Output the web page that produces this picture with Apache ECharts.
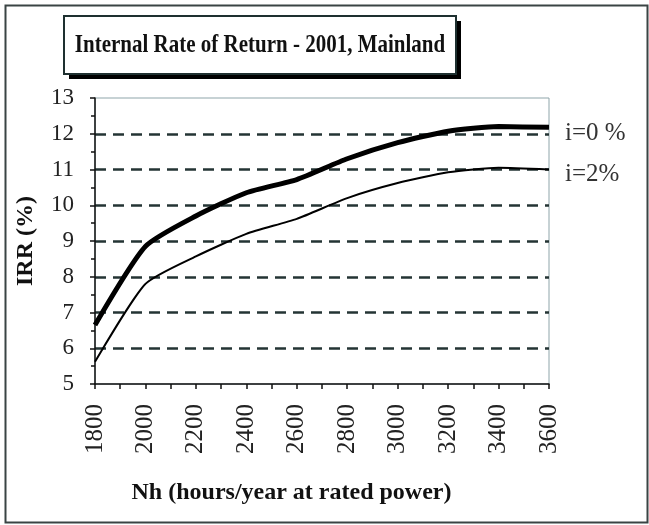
<!DOCTYPE html>
<html>
<head>
<meta charset="utf-8">
<script src="https://cdn.jsdelivr.net/npm/echarts@6/dist/echarts.min.js"></script>
<style>html,body{margin:0;padding:0;background:#fff}#c{width:649px;height:525px}</style>
</head>
<body>
<div id="c"></div>
<script>
var hours = [1800, 2000, 2200, 2400, 2600, 2800, 3000, 3200, 3400, 3600];
var irr0 = [6.65, 8.85, 9.7, 10.35, 10.72, 11.3, 11.75, 12.07, 12.2, 12.18];
var irr2 = [5.62, 7.8, 8.57, 9.2, 9.62, 10.2, 10.62, 10.92, 11.05, 11.0];
var name0 = 'i=0 %';
var name2 = 'i=2%';
var titleText = 'Internal Rate of Return - 2001, Mainland';
var xName = 'Nh (hours/year at rated power)';
var yName = 'IRR (%)';

function pairs(xs, ys) { return xs.map(function (x, i) { return [x, ys[i]]; }); }

var serif = '"Liberation Serif", "Times New Roman", serif';
var gridColor = '#243434';
var chart = echarts.init(document.getElementById('c'), null, { renderer: 'canvas' });
chart.setOption({
  backgroundColor: '#fff',
  animation: false,
  grid: { left: 95, top: 98, right: 100, bottom: 141, show: true, borderColor: '#8fa5aa', borderWidth: 1 },
  xAxis: {
    type: 'value', min: 1800, max: 3600, interval: 200,
    name: xName, nameLocation: 'middle', nameGap: 97,
    nameTextStyle: { fontFamily: serif, fontWeight: 'bold', fontSize: 24, color: '#111', padding: [0, 61, 0, 0] },
    axisLine: { show: true, lineStyle: { color: '#111', width: 1.5 } },
    axisTick: { show: true, length: 5, lineStyle: { color: '#111', width: 1.5 } },
    minorTick: { show: true, splitNumber: 2, length: 5, lineStyle: { color: '#111', width: 1.5 } },
    axisLabel: { rotate: 90, margin: 20, fontFamily: serif, fontSize: 25, color: '#222',
      formatter: function (v) { return String(v); } },
    splitLine: { show: false }
  },
  yAxis: {
    type: 'value', min: 5, max: 13, interval: 1,
    name: yName, nameLocation: 'middle', nameGap: 57,
    nameTextStyle: { fontFamily: serif, fontWeight: 'bold', fontSize: 24, color: '#111' },
    axisLine: { show: true, lineStyle: { color: '#111', width: 1.5 } },
    axisTick: { show: true, length: 5, lineStyle: { color: '#111', width: 1.5 } },
    minorTick: { show: true, splitNumber: 2, length: 4, lineStyle: { color: '#111', width: 1.5 } },
    axisLabel: { margin: 21, fontFamily: serif, fontSize: 23, color: '#222' },
    splitLine: { show: true, lineStyle: {
      color: ['rgba(0,0,0,0)', gridColor, gridColor, gridColor, gridColor, gridColor, gridColor, gridColor, 'rgba(0,0,0,0)'],
      width: 2.5, type: [11, 7] } }
  },
  series: [
    { name: name0, type: 'line', data: pairs(hours, irr0), symbol: 'none', smooth: 0.2,
      lineStyle: { color: '#000', width: 5 },
      endLabel: { show: true, formatter: '{a}', distance: 16, offset: [0, 6], fontFamily: serif, fontSize: 25, color: '#333' } },
    { name: name2, type: 'line', data: pairs(hours, irr2), symbol: 'none', smooth: 0.2,
      lineStyle: { color: '#000', width: 2 },
      endLabel: { show: true, formatter: '{a}', distance: 16, offset: [0, 5], fontFamily: serif, fontSize: 25, color: '#333' } }
  ],
  graphic: [
    { type: 'rect', left: 3, top: 3, shape: { width: 642, height: 517 }, style: { fill: 'none', stroke: '#3a4444', lineWidth: 2 }, z: -10 },
    { type: 'rect', left: 69, top: 21, shape: { width: 392, height: 58 }, style: { fill: '#000' }, z: 10 },
    { type: 'rect', left: 63, top: 15, shape: { width: 392, height: 58 }, style: { fill: '#fff', stroke: '#1e3030', lineWidth: 2 }, z: 11 },
    { type: 'text', x: 260, y: 46, z: 12, scaleY: 1.15, style: { text: titleText, fontFamily: serif, fontWeight: 'bold', fontSize: 21, fill: '#111', align: 'center', verticalAlign: 'middle' } }
  ]
});
</script>
</body>
</html>
